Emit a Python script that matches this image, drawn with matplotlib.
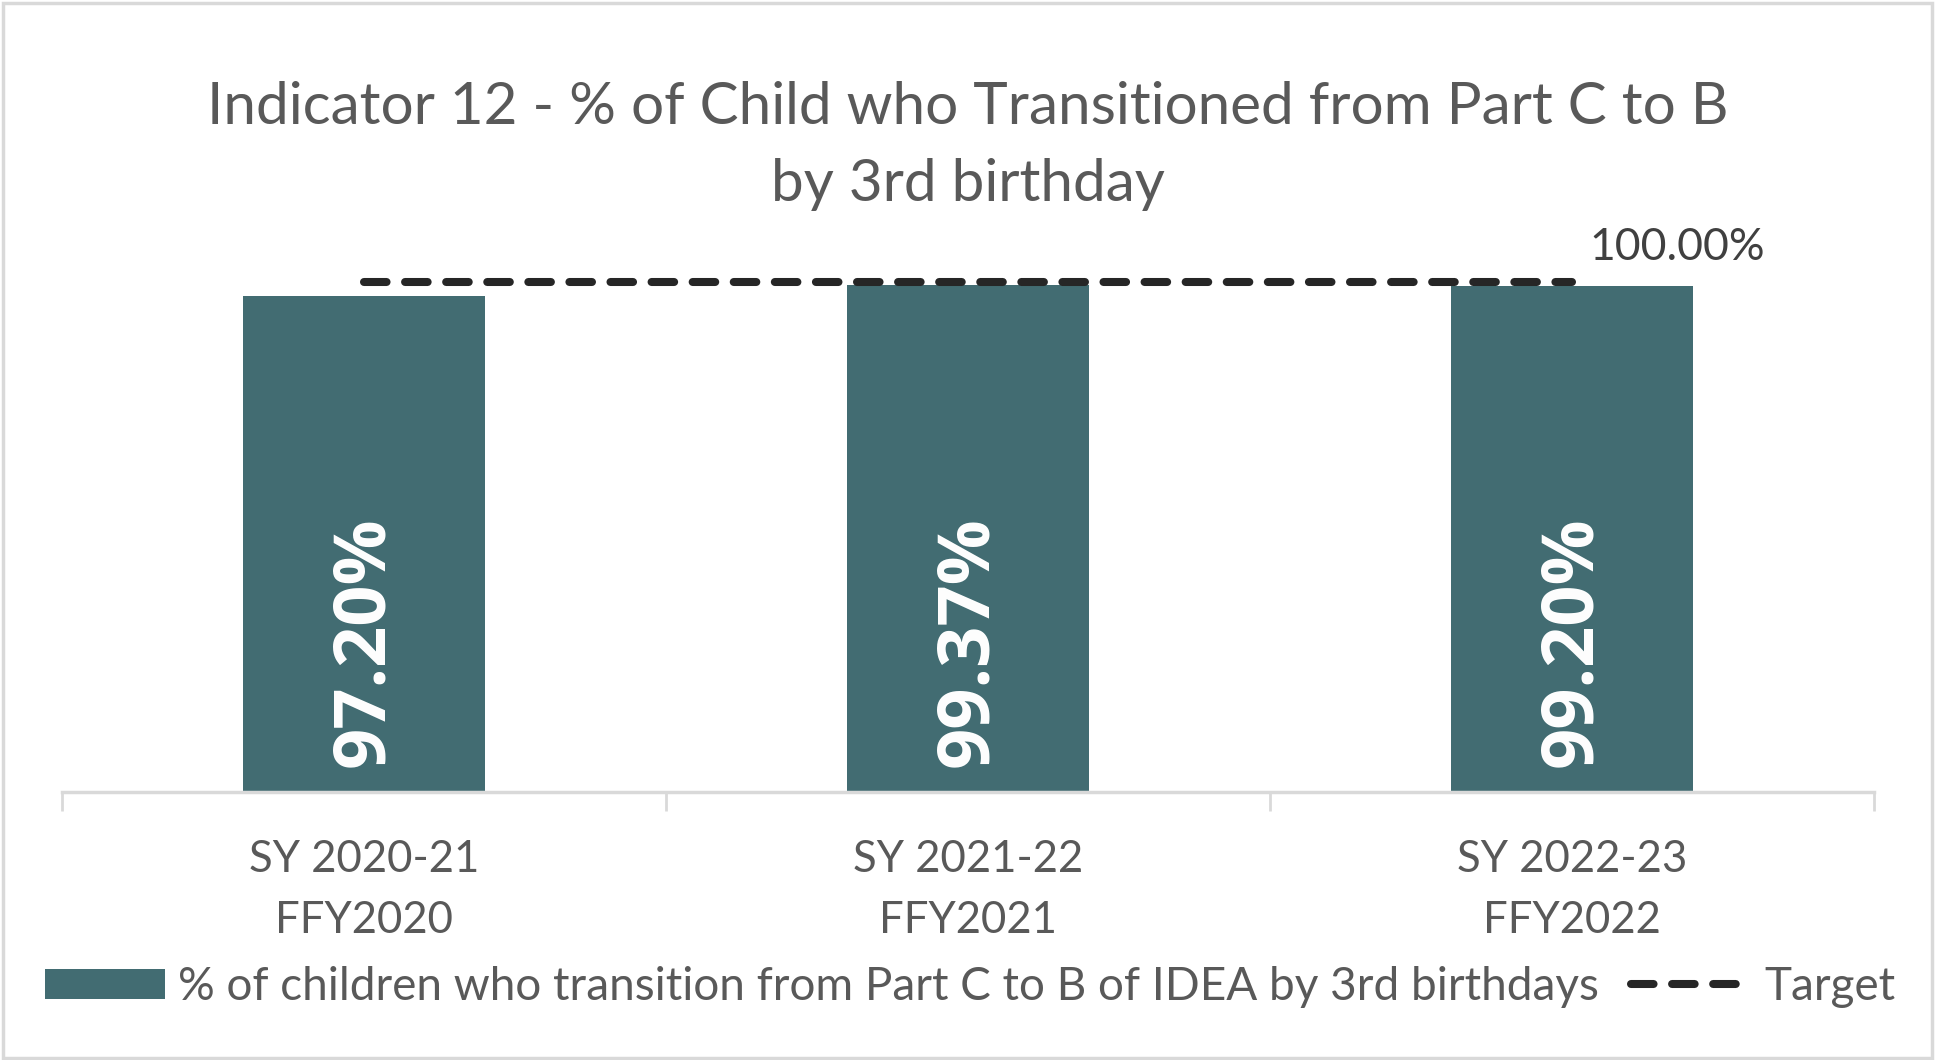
import matplotlib.pyplot as plt
from matplotlib.patches import Rectangle

categories = ["SY 2020-21\nFFY2020", "SY 2021-22\nFFY2021", "SY 2022-23\nFFY2022"]
values = [97.20, 99.37, 99.20]
target = [100, 100, 100]
bar_name = "% of children who transition from Part C to B of IDEA by 3rd birthdays"
target_name = "Target"
title = "Indicator 12 - % of Child who Transitioned from Part C to B\nby 3rd birthday"

bar_color = "#426C72"
text_gray = "#595959"
grid_gray = "#D9D9D9"

plt.rcParams['font.family'] = ['Lato', 'DejaVu Sans']

fig = plt.figure(figsize=(19.35, 10.6), dpi=100)
ax = fig.add_axes([0.0319, 0.2528, 0.9368, 0.481])

x = list(range(len(categories)))
bars = ax.bar(x, values, width=0.4, color=bar_color, label=bar_name, zorder=2)
line, = ax.plot(x, target, color="#262626", lw=5.8, solid_capstyle='round',
                dash_capstyle='round', dashes=(2.8, 2.3), label=target_name,
                clip_on=False, zorder=3)

for xi, v in zip(x, values):
    ax.annotate("{:.2f}%".format(v), xy=(xi, 0), xytext=(0, 18),
                textcoords='offset points', rotation=90, ha='center',
                va='bottom', color='white', fontsize=52, fontweight='bold',
                family=['Open Sans', 'DejaVu Sans'])

ax.annotate("{:.2f}%".format(target[-1]), xy=(x[-1], target[-1]),
            xytext=(12, 25), textcoords='offset points', ha='left',
            va='center', color="#404040", fontsize=32, annotation_clip=False)

ax.set_xlim(-0.5, 2.5)
ax.set_ylim(0, 100)
ax.set_yticks([])
ax.set_xticks(x)
ax.set_xticklabels(categories, fontsize=31.5, color=text_gray, linespacing=1.6)
ax.tick_params(axis='x', which='major', length=0, pad=34)
ax.set_xticks([-0.5, 0.5, 1.5, 2.5], minor=True)
ax.tick_params(axis='x', which='minor', length=14, width=2, color=grid_gray)
for s in ['top', 'left', 'right']:
    ax.spines[s].set_visible(False)
ax.spines['bottom'].set_color(grid_gray)
ax.spines['bottom'].set_linewidth(2.5)
ax.patch.set_visible(False)

fig.text(0.5, 0.862, title, ha='center', va='center', fontsize=42,
         color=text_gray, linespacing=1.55)

fig.legend(handles=[bars, line], labels=[bar_name, target_name],
           loc='center', bbox_to_anchor=(0.5015, 0.069), ncol=2,
           frameon=False, fontsize=33, labelcolor=text_gray,
           handlelength=2.6, handleheight=0.62, handletextpad=0.3,
           columnspacing=0.7)

fig.patches.append(Rectangle((0.0015, 0.002), 0.997, 0.995,
                             transform=fig.transFigure, fill=False,
                             edgecolor=grid_gray, lw=2.5))

fig.savefig("out.png", dpi=100)
